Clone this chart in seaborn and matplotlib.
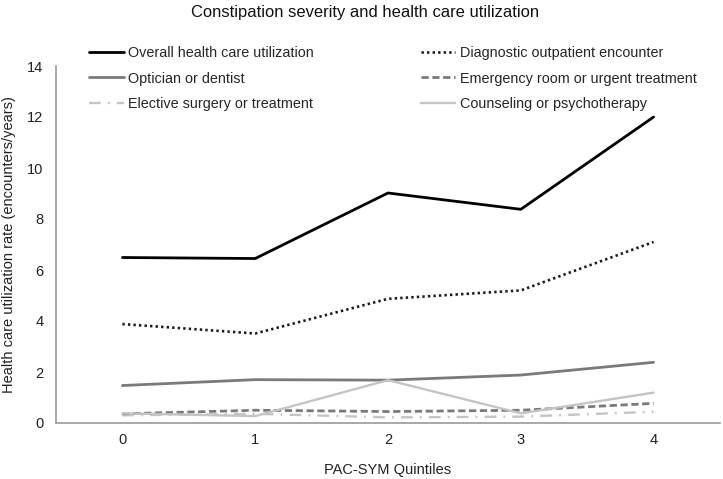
import matplotlib
matplotlib.use("Agg")
import matplotlib.pyplot as plt
import seaborn as sns
import pandas as pd

quintiles = [0, 1, 2, 3, 4]
overall = [6.49, 6.45, 9.02, 8.38, 12.0]
diagnostic = [3.88, 3.51, 4.87, 5.20, 7.10]
optician = [1.47, 1.70, 1.68, 1.88, 2.38]
emergency = [0.36, 0.50, 0.45, 0.50, 0.77]
elective = [0.30, 0.36, 0.22, 0.25, 0.44]
counseling = [0.38, 0.27, 1.68, 0.38, 1.19]

labels = ["Overall health care utilization", "Optician or dentist",
          "Elective surgery or treatment", "Diagnostic outpatient encounter",
          "Emergency room or urgent treatment", "Counseling or psychotherapy"]
series = [overall, optician, elective, diagnostic, emergency, counseling]
colors = ["#000000", "#7a7a7a", "#c4c4c4", "#1a1a1a", "#7a7a7a", "#c4c4c4"]
widths = [2.0, 2.0, 1.7, 1.9, 2.0, 1.7]
dashes = [None, None, (5, 3, 0.8, 3), (0.9, 1.2), (2.6, 1.3), None]

sns.set_theme(style="white")
plt.rcParams["font.family"] = ["Liberation Sans", "DejaVu Sans"]

fig = plt.figure(figsize=(7.23, 4.79), dpi=100)
ax = fig.add_axes([56/723, 1-423/479, (720-56)/723, (423-66)/479])

for lab, vals, c, w, d in zip(labels, series, colors, widths, dashes):
    df = pd.DataFrame({"x": quintiles, "y": vals})
    kw = {}
    if d is not None:
        kw["dashes"] = d
    sns.lineplot(data=df, x="x", y="y", ax=ax, color=c, linewidth=w,
                 label=lab, **kw)

ax.set_xlim(-0.5, 4.5)
ax.set_ylim(0, 14)
ax.set_yticks([0, 2, 4, 6, 8, 10, 12, 14])
ax.set_xticks(quintiles)
ax.tick_params(axis="both", length=0, labelsize=10.5, colors="#222222")
ax.tick_params(axis="y", pad=9)
ax.tick_params(axis="x", pad=7)
for s in ["top", "right"]:
    ax.spines[s].set_visible(False)
for s in ["left", "bottom"]:
    ax.spines[s].set_color("#9a9a9a")
    ax.spines[s].set_linewidth(1.2)

ax.set_xlabel("PAC-SYM Quintiles", fontsize=10.5, color="#222222", labelpad=12)
ax.set_ylabel("Health care utilization rate (encounters/years)", fontsize=10.5,
              color="#222222", labelpad=8)
fig.text(365/723, 1-12/479, "Constipation severity and health care utilization",
         ha="center", va="center", fontsize=11.9, color="#111111")

ax.legend(ncol=2, loc="upper left", bbox_to_anchor=(89/723, 1-46/479),
          bbox_transform=fig.transFigure, frameon=False, fontsize=10.4,
          handlelength=2.4, handletextpad=0.3, columnspacing=7.4,
          labelspacing=0.8, borderaxespad=0, borderpad=0)

fig.savefig("out.png", dpi=100)
